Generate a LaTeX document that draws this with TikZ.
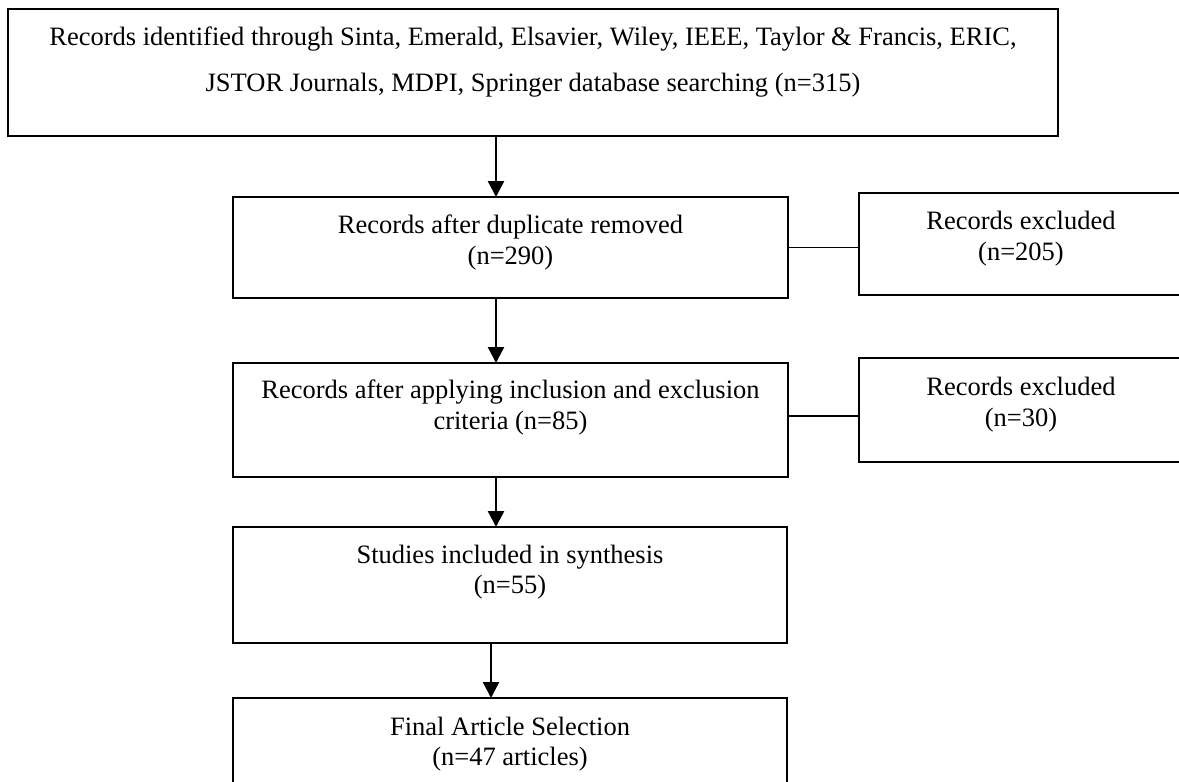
\documentclass[tikz,border=0pt]{standalone}
\usepackage{fontspec}
\setmainfont{Liberation Serif}
\usetikzlibrary{arrows.meta}
\newcommand\bxt[5]{\parbox[c][#2][t]{#1}{\centering\fontsize{26.5}{#3}\selectfont\rule{0pt}{#4}#5}}
\begin{document}
\begin{tikzpicture}[x=1pt,y=-1pt,
  box/.style={draw, line width=2.4pt, inner sep=0pt, outer sep=0pt},
  arr/.style={line width=2.4pt, -{Triangle[width=16pt,length=16pt]}},
  link/.style={line width=1.3pt}]
\clip (0,0) rectangle (1179,782);
\node[box] (top) at (533,72.5) {\bxt{1050pt}{127pt}{46pt}{36pt}{Records identified through Sinta, Emerald, Elsavier, Wiley, IEEE, Taylor \& Francis, ERIC,\\JSTOR Journals, MDPI, Springer database searching (n=315)}};
\node[box] (b2) at (510.5,247.5) {\bxt{555pt}{101pt}{31.5pt}{36pt}{Records after duplicate removed\\(n=290)}};
\node[box] (b3) at (510.5,420) {\bxt{555pt}{114pt}{31pt}{35pt}{Records after applying inclusion and exclusion\\criteria (n=85)}};
\node[box] (b4) at (510,585) {\bxt{554pt}{116pt}{30.5pt}{36pt}{Studies included in synthesis\\(n=55)}};
\node[box] (b5) at (510,758) {\bxt{554pt}{120pt}{30.5pt}{37pt}{Final Article Selection\\(n=47 articles)}};
\node[box] (r1) at (1021,244) {\bxt{324pt}{102pt}{31pt}{36pt}{Records excluded\\(n=205)}};
\node[box] (r2) at (1021,410) {\bxt{324pt}{104pt}{31pt}{37pt}{Records excluded\\(n=30)}};
\coordinate (ax) at (496,0);
\coordinate (ax2) at (491,0);
\draw[arr] (top.south -| ax) -- (b2.north -| ax);
\draw[arr] (b2.south -| ax) -- (b3.north -| ax);
\draw[arr] (b3.south -| ax) -- (b4.north -| ax);
\draw[arr] (b4.south -| ax2) -- (b5.north -| ax2);
\draw[link] (b2.east) -- (b2.east -| r1.west);
\draw[link] ([yshift=4pt]b3.east) -- ([yshift=4pt]b3.east -| r2.west);
\end{tikzpicture}
\end{document}
